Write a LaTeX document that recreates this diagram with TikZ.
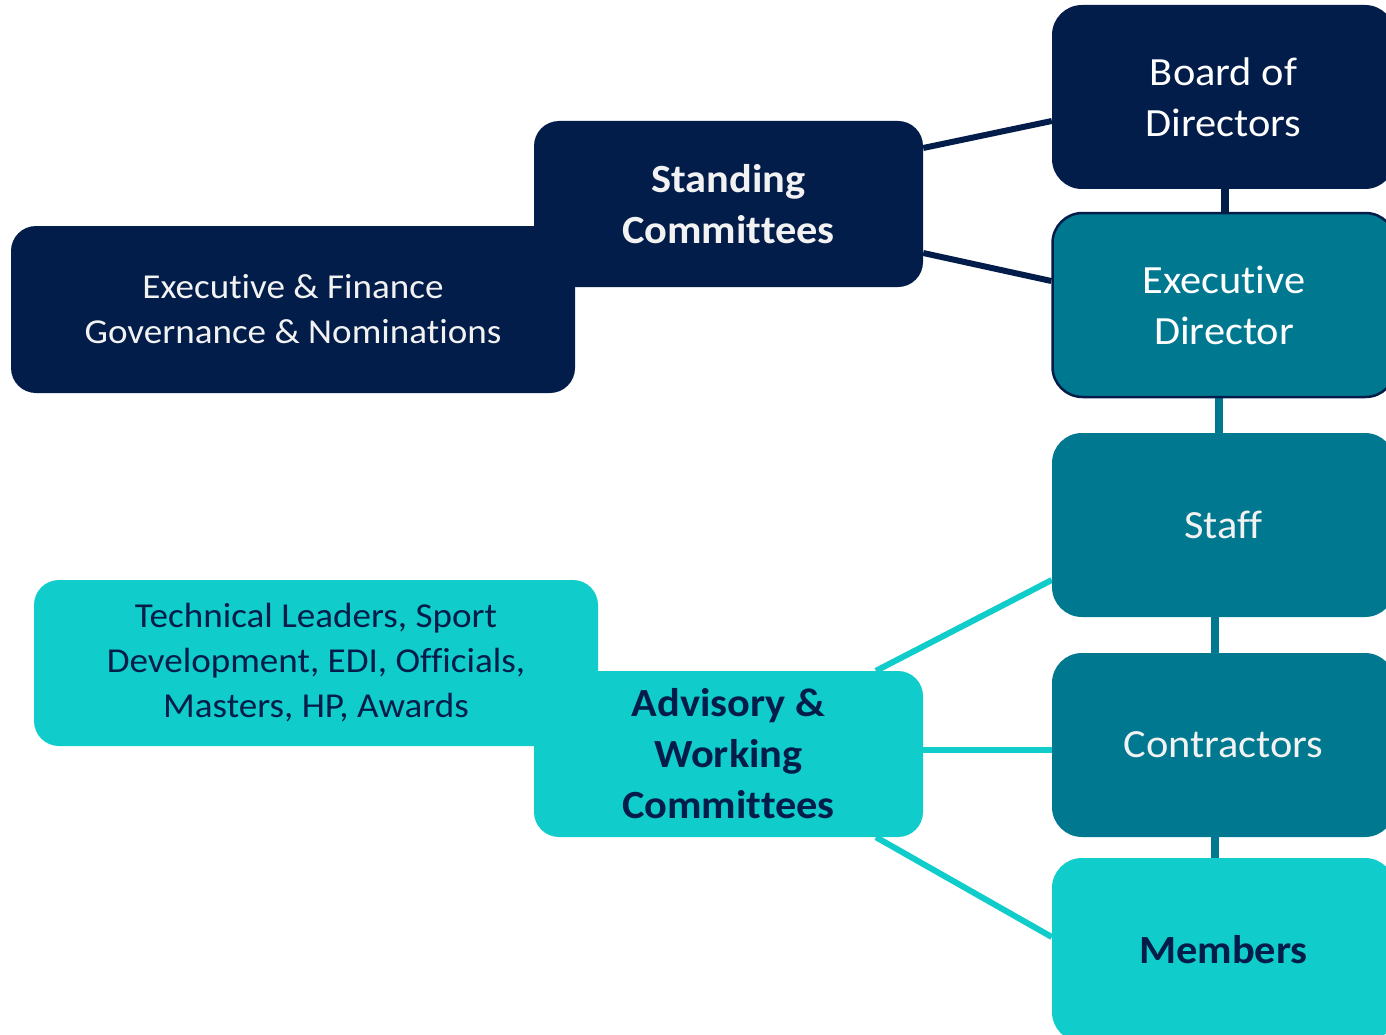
\documentclass[tikz,border=0pt]{standalone}
\usepackage{fontspec}
\setmainfont{Carlito}[Ligatures=NoCommon, FakeStretch=1.06]
\usetikzlibrary{backgrounds}
\definecolor{navy}{RGB}{2,29,73}
\definecolor{tealc}{RGB}{0,120,144}
\definecolor{cyanc}{RGB}{16,204,202}
\definecolor{lighttxt}{RGB}{242,242,242}
\begin{document}
\begin{tikzpicture}[x=1pt,y=-1pt,
  rbox/.style={rectangle, rounded corners=30pt, inner sep=0pt, align=center,
    minimum width=343pt, minimum height=184pt, font=\fontsize{40}{51}\selectfont},
  lbox/.style={rectangle, rounded corners=25pt, inner sep=0pt, align=center,
    minimum height=166pt},
  big/.style={font=\fontsize{40}{51}\selectfont\bfseries},
  small/.style={font=\fontsize{35}{45}\selectfont},
  navyfill/.style={fill=navy, text=lighttxt},
  tealfill/.style={fill=tealc, text=lighttxt},
  cyanfill/.style={fill=cyanc, text=navy},
  navyline/.style={draw=navy, line width=6pt},
  navyvert/.style={draw=navy, line width=8pt},
  tealvert/.style={draw=tealc, line width=8pt},
  cyanline/.style={draw=cyanc, line width=6pt}]
\useasboundingbox (0,0) rectangle (1386,1035);
\clip (0,0) rectangle (1386,1035);

% right column
\node[rbox, navyfill, text=white] (bod) at (1223.5,97) {Board of\\Directors};
\node[rbox, tealfill, text=white, draw=navy, line width=2.5pt] (ed) at (1224,305) {Executive\\Director};
\node[rbox, tealfill] (staff) at (1223.5,525) {Staff};
\node[rbox, tealfill] (contr) at (1223.5,745) {Contractors};
\node[rbox, cyanfill, font=\fontsize{40}{51}\selectfont\bfseries] (mem) at (1223.5,950) {Members};

% left groups
\node[lbox, navyfill, small, minimum width=564pt, minimum height=167pt] (ef) at (293,309.5)
  {Executive \& Finance\\Governance \& Nominations};
\node[lbox, navyfill, big, minimum width=389pt] (stand) at (728.5,204)
  {Standing\\Committees};
\node[lbox, cyanfill, small, minimum width=564pt] (tech) at (316,663)
  {Technical Leaders, Sport\\Development, EDI, Officials,\\Masters, HP, Awards};
\node[lbox, cyanfill, big, minimum width=389pt] (adv) at (728.5,754)
  {Advisory \&\\Working\\Committees};

\begin{scope}[on background layer]
  \draw[navyline] ([yshift=56pt]stand.east) -- ([yshift=-24pt]bod.west);
  \draw[navyline] ([yshift=-49pt]stand.east) -- ([yshift=24pt]ed.west);
  \draw[navyvert] ([xshift=1.5pt]bod.south) -- ([xshift=1.5pt]bod.south |- ed.north);
  \draw[tealvert] ([xshift=-5pt]ed.south) -- ([xshift=-5pt]ed.south |- staff.north);
  \draw[tealvert] ([xshift=-8.5pt]staff.south) -- ([xshift=-8.5pt]staff.south |- contr.north);
  \draw[tealvert] ([xshift=-8.5pt]contr.south) -- ([xshift=-8.5pt]contr.south |- mem.north);
  \draw[cyanline] ([xshift=147.5pt]adv.north) -- ([yshift=-55pt]staff.west);
  \draw[cyanline] ([yshift=4pt]adv.east) -- ([yshift=-5pt]contr.west);
  \draw[cyanline] ([xshift=147.5pt]adv.south) -- ([yshift=13pt]mem.west);
\end{scope}
\end{tikzpicture}
\end{document}
